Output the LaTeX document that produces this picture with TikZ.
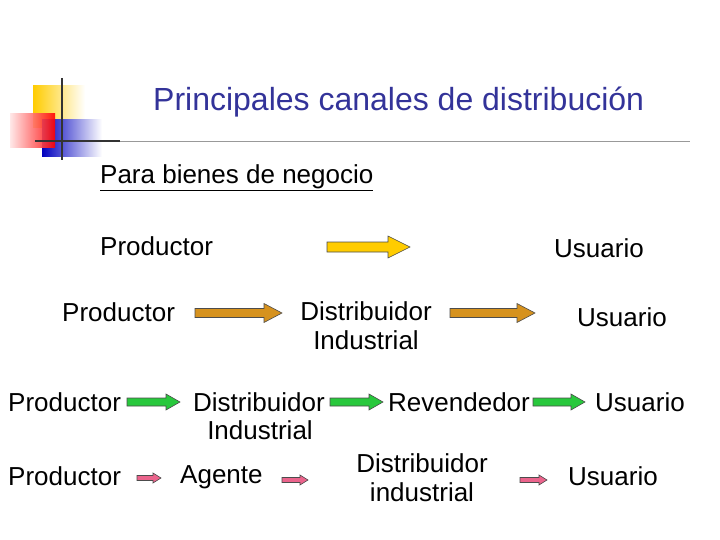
\documentclass[tikz,border=0pt]{standalone}
\usepackage{fontspec}
\setmainfont{Liberation Sans}
\definecolor{titleblue}{RGB}{51,51,153}
\definecolor{ayellow}{RGB}{255,204,0}
\definecolor{aorange}{RGB}{214,146,30}
\definecolor{agreen}{RGB}{40,200,60}
\definecolor{apink}{RGB}{235,100,140}
\tikzstyle{lbl}=[font=\fontsize{26}{29}\selectfont, align=center, inner sep=0pt]
% block arrow: x1, x2, y, half shaft, half head, head length, colour
\newcommand{\blockarrow}[7]{\filldraw[fill=#7, draw=black!70, line width=0.6pt]
 (#1,#3-#4) -- (#2-#6,#3-#4) -- (#2-#6,#3-#5) -- (#2,#3) -- (#2-#6,#3+#5) -- (#2-#6,#3+#4) -- (#1,#3+#4) -- cycle;}
\begin{document}
\begin{tikzpicture}[x=1pt,y=-1pt]
\useasboundingbox (0,0) rectangle (720,540);
% logo
\shade[left color=ayellow, right color=white] (33,86) rectangle (85,128);
\shade[left color=blue!75!black, right color=white] (42,120) rectangle (102,157);
\shade[left color=red!10, right color=red, opacity=0.9] (10,114) rectangle (55,148);
\draw[line width=2.5pt, black!80] (62,78) -- (62,160);
\draw[line width=2.5pt, black!80] (35,141) -- (120,141);
\draw[black!40, line width=0.6pt] (120,141) -- (690,141);
\node[lbl, anchor=west, font=\fontsize{32}{36}\selectfont, text=titleblue] (title) at (153,102) {Principales canales de distribución};
\node[lbl, anchor=west] (sub) at (100,178) {\underline{Para bienes de negocio}};
% fila 1
\node[lbl, anchor=west] (p1) at (100,246) {Productor};
\node[lbl, anchor=west] (u1) at (554,248) {Usuario};
\blockarrow{327}{410}{247}{5}{11}{22}{ayellow}
% fila 2
\node[lbl, anchor=west] (p2) at (62,312) {Productor};
\node[lbl] (d2) at (366,326) {Distribuidor\\Industrial};
\node[lbl, anchor=west] (u2) at (577,317) {Usuario};
\blockarrow{195}{282}{313}{4.5}{9.5}{18}{aorange}
\blockarrow{450}{535}{313}{4.5}{9.5}{18}{aorange}
% fila 3
\node[lbl, anchor=west] (p3) at (8,402) {Productor};
\node[lbl, anchor=west] (d3) at (193,402) {Distribuidor};
\node[lbl] (i3) at (260,430) {Industrial};
\node[lbl, anchor=west] (r3) at (388,402) {Revendedor};
\node[lbl, anchor=west] (u3) at (595,402) {Usuario};
\blockarrow{127}{180}{402}{4}{8}{14}{agreen}
\blockarrow{330}{383}{402}{4}{8}{14}{agreen}
\blockarrow{533}{585}{402}{4}{8}{14}{agreen}
% fila 4
\node[lbl, anchor=west] (p4) at (8,476) {Productor};
\node[lbl, anchor=west] (ag4) at (180,477) {Agente};
\node[lbl] (d4) at (422,478) {Distribuidor\\industrial};
\node[lbl, anchor=west] (u4) at (568,476) {Usuario};
\blockarrow{137}{161}{478}{2.5}{5}{8}{apink}
\blockarrow{282}{308}{480}{2.5}{5}{8}{apink}
\blockarrow{520}{547}{480}{2.5}{5}{8}{apink}
\end{tikzpicture}
\end{document}
